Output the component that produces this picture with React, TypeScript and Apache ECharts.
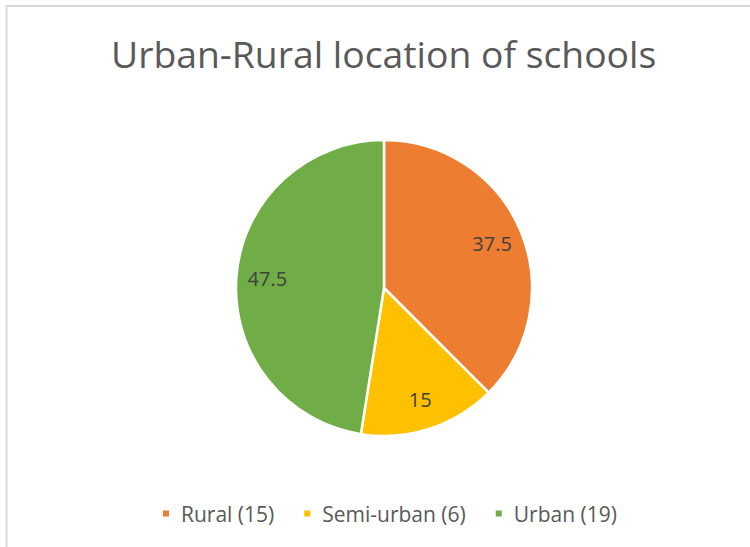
import React, { useEffect, useRef } from "react";
import * as echarts from "echarts";

const categories = ["Rural (15)", "Semi-urban (6)", "Urban (19)"];
const percentages = [37.5, 15, 47.5];
const colors = ["#ED7D31", "#FFC000", "#70AD47"];
const titleText = "Urban-Rural location of schools";

export default function App() {
  const ref = useRef<HTMLDivElement>(null);
  useEffect(() => {
    if (!ref.current) return;
    const chart = echarts.init(ref.current, undefined, { renderer: "svg" });
    const data = categories.map((name, i) => ({
      name,
      value: percentages[i],
      itemStyle: { color: colors[i] },
    }));
    chart.setOption({
      animation: false,
      backgroundColor: "#ffffff",
      title: {
        text: titleText,
        left: 106,
        top: 30,
        textStyle: {
          fontFamily: "Open Sans",
          fontSize: 37.3,
          fontWeight: "normal",
          color: "#595959",
        },
      },
      legend: {
        bottom: 18,
        left: 156,
        itemWidth: 8,
        itemHeight: 8,
        itemGap: 28,
        icon: "rect",
        textStyle: {
          fontFamily: "Open Sans",
          fontSize: 21,
          color: "#595959",
          padding: [0, 0, 0, 6],
        },
        data: categories,
      },
      graphic: [
        {
          type: "polyline",
          shape: { points: [[6.5, 547], [6.5, 6], [750, 6]] },
          style: { stroke: "#D9D9D9", lineWidth: 2, fill: "none" },
          silent: true,
        },
      ],
      series: [
        {
          type: "pie",
          center: [384, 288],
          radius: [0, 148],
          startAngle: 90,
          clockwise: true,
          label: { show: false },
          labelLine: { show: false },
          itemStyle: { borderColor: "#ffffff", borderWidth: 2.5 },
          emphasis: { disabled: true },
          data,
        },
        {
          type: "pie",
          center: [384, 288],
          radius: [80, 148],
          startAngle: 90,
          clockwise: true,
          silent: true,
          legendHoverLink: false,
          itemStyle: { color: "rgba(0,0,0,0)" },
          label: {
            show: true,
            position: "inside",
            formatter: "{c}",
            fontFamily: "Open Sans",
            fontSize: 20,
            color: "#404040",
          },
          labelLine: { show: false },
          emphasis: { disabled: true },
          data: categories.map((name, i) => ({
            name: name + " ",
            value: percentages[i],
            itemStyle: { color: "rgba(0,0,0,0)" },
          })),
        },
      ],
    });
    return () => chart.dispose();
  }, []);
  return (
    <div
      ref={ref}
      style={{ position: "fixed", left: 0, top: 0, width: 750, height: 547 }}
    />
  );
}
